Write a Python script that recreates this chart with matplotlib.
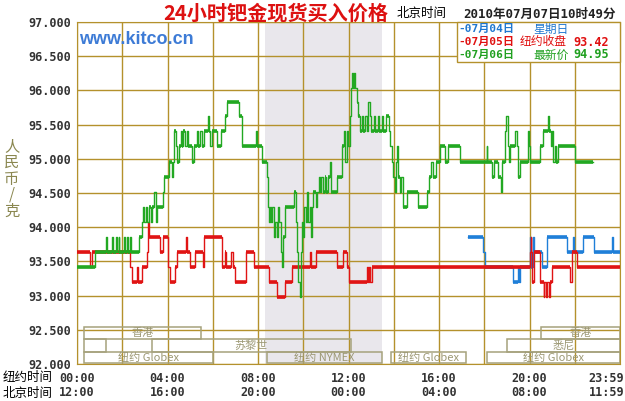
import matplotlib
matplotlib.use('Agg')
import matplotlib.pyplot as plt
import matplotlib.transforms as mtransforms
from matplotlib.patches import Rectangle

W, H = 625, 401
CJK = ['Noto Sans CJK SC', 'DejaVu Sans']
MONO_CJK = ['DejaVu Sans Mono', 'Noto Sans CJK SC']

# ---- data (hour of New York day, price RMB/g), step from each point ----
red_pts = [
    (0.00, 93.64), (0.58, 93.42), (0.65, 93.64),
    (2.36, 93.42), (2.42, 93.20), (2.64, 93.42), (2.70, 93.20), (2.86, 93.42),
    (3.08, 93.64), (3.14, 94.08), (3.20, 93.86), (3.67, 93.64), (3.80, 93.86),
    (4.04, 93.42), (4.11, 93.20), (4.31, 93.42), (4.40, 93.64), (4.80, 93.86),
    (4.85, 93.64), (5.00, 93.42), (5.22, 93.64), (5.55, 93.42), (5.61, 93.86),
    (6.40, 93.42), (6.52, 93.64), (6.60, 93.42), (6.82, 93.64), (6.88, 93.42),
    (7.00, 93.20), (7.45, 93.64), (7.81, 93.42), (8.47, 93.20), (8.82, 92.98),
    (9.21, 93.20), (9.50, 93.42), (10.30, 93.64), (10.36, 93.42), (10.56, 93.64),
    (11.50, 93.42), (11.77, 93.64), (11.94, 93.42), (12.02, 93.20), (12.80, 93.42),
    (12.86, 93.20), (12.92, 93.42), (12.97, 93.20), (13.03, 93.42),
    (20.02, 93.64), (20.05, 93.86), (20.08, 93.64), (20.10, 93.20), (20.20, 93.64),
    (20.46, 93.20), (20.62, 92.98), (20.66, 93.20), (20.74, 92.98), (20.78, 93.20),
    (20.85, 92.98), (20.89, 93.20), (20.98, 93.42), (21.79, 93.20), (21.86, 93.64),
    (22.08, 93.42), (24.00, 93.42),
]

green_pts = [
    (0.00, 93.42), (0.81, 93.64),
    (1.30, 93.86), (1.33, 93.64), (1.55, 93.86), (1.58, 93.64),
    (1.74, 93.86), (1.77, 93.64), (1.84, 93.86), (1.87, 93.64),
    (2.09, 93.86), (2.12, 93.64), (2.21, 93.86), (2.25, 93.64),
    (2.33, 93.86), (2.37, 93.64), (2.73, 93.86), (2.87, 94.08),
    (2.92, 94.30), (2.98, 94.08), (3.05, 94.30), (3.10, 94.08),
    (3.17, 94.30), (3.25, 94.08), (3.32, 94.30), (3.42, 94.52),
    (3.47, 94.08), (3.55, 94.30), (3.78, 94.52), (3.83, 94.74),
    (4.05, 94.96), (4.18, 94.74), (4.25, 94.96), (4.30, 95.40),
    (4.38, 95.18), (4.42, 94.96), (4.50, 95.18), (4.58, 95.40),
    (4.62, 95.18), (4.70, 95.40), (4.78, 95.18), (4.85, 95.40),
    (4.92, 95.18), (5.08, 94.96), (5.16, 95.18), (5.30, 95.40),
    (5.36, 95.18), (5.44, 95.40), (5.52, 95.18), (5.60, 95.40),
    (5.79, 95.62), (5.82, 95.40), (5.90, 95.18), (5.97, 95.40),
    (6.19, 95.18), (6.38, 95.40), (6.52, 95.62), (6.63, 95.83),
    (7.15, 95.62), (7.30, 95.18), (7.89, 95.40), (7.96, 95.18),
    (8.18, 94.96), (8.40, 94.74), (8.44, 94.30), (8.48, 94.08),
    (8.53, 94.30), (8.58, 94.08), (8.64, 94.30), (8.70, 93.86),
    (8.76, 94.08), (8.82, 93.86), (8.88, 94.30), (8.94, 94.08),
    (9.00, 93.64), (9.06, 93.42), (9.12, 93.86), (9.20, 94.30),
    (9.58, 94.52), (9.66, 94.08), (9.72, 93.64), (9.78, 93.20),
    (9.84, 92.98), (9.90, 93.64), (9.95, 94.08), (10.00, 93.86),
    (10.05, 94.30), (10.10, 94.08), (10.16, 94.52), (10.22, 94.08),
    (10.28, 94.30), (10.35, 93.86), (10.40, 94.30), (10.45, 94.52),
    (10.55, 94.30), (10.62, 94.52), (10.68, 94.74), (10.74, 94.52),
    (10.80, 94.74), (10.86, 94.52), (10.94, 94.74), (11.02, 94.52),
    (11.10, 94.74), (11.19, 94.96), (11.24, 94.52), (11.48, 94.74),
    (11.70, 95.18), (11.78, 95.40), (11.85, 94.96), (11.92, 95.40),
    (11.99, 95.18), (12.05, 95.62), (12.12, 96.04), (12.16, 96.26),
    (12.20, 96.04), (12.24, 96.26), (12.30, 96.04), (12.36, 95.83),
    (12.44, 95.62), (12.52, 95.40), (12.60, 95.62), (12.66, 95.40),
    (12.75, 95.62), (12.82, 95.40), (12.88, 95.83), (12.93, 95.62),
    (12.98, 95.40), (13.14, 95.62), (13.17, 95.40), (13.32, 95.62),
    (13.35, 95.40), (13.49, 95.62), (13.52, 95.40), (13.66, 95.62),
    (13.80, 95.40), (13.85, 95.18), (13.92, 94.96), (13.98, 94.74),
    (14.04, 94.52), (14.08, 94.96), (14.14, 95.18), (14.18, 94.74),
    (14.26, 94.52), (14.34, 94.74), (14.40, 94.52), (14.43, 94.30),
    (14.57, 94.52), (15.09, 94.30), (15.46, 94.52), (15.56, 94.74),
    (15.66, 94.96), (15.72, 94.74), (15.86, 94.96), (16.05, 95.18),
    (16.27, 94.96), (16.40, 95.18), (16.93, 94.96), (18.10, 95.18),
    (18.14, 94.96), (18.34, 94.74), (18.42, 94.96), (18.62, 94.74),
    (18.74, 94.52), (18.80, 94.96), (18.92, 95.40), (18.98, 95.62),
    (19.04, 95.18), (19.10, 94.96), (19.14, 95.18), (19.38, 95.40),
    (19.43, 95.18), (19.48, 94.74), (19.60, 94.96), (19.93, 95.40),
    (19.98, 95.18), (20.04, 94.96), (20.45, 95.18), (20.58, 95.40),
    (20.80, 95.62), (20.86, 95.40), (20.95, 95.18), (21.00, 95.40),
    (21.05, 94.96), (21.12, 95.18), (21.18, 94.96), (21.27, 95.18),
    (22.00, 94.96), (22.82, 94.96),
]

blue_pts = [
    (17.30, 93.86), (17.96, 93.64), (18.04, 93.42), (19.29, 93.20),
    (19.50, 93.42), (19.54, 93.20), (19.58, 93.42), (20.02, 93.86),
    (20.08, 93.42), (20.16, 93.86), (20.22, 93.64), (20.54, 93.42),
    (20.76, 93.86), (21.64, 93.64), (21.93, 93.86), (21.97, 93.64),
    (22.36, 93.86), (22.86, 93.64), (23.66, 93.86), (23.70, 93.64),
    (24.00, 93.64),
]

y_ticks = [92.0, 92.5, 93.0, 93.5, 94.0, 94.5, 95.0, 95.5, 96.0, 96.5, 97.0]
tick_hours = [0, 4, 8, 12, 16, 20, 24]
ny_labels = ['00:00', '04:00', '08:00', '12:00', '16:00', '20:00', '23:59']
bj_labels = ['12:00', '16:00', '20:00', '00:00', '04:00', '08:00', '11:59']

nymex_open, nymex_close = 8.33, 13.5

# trading sessions drawn at the bottom: row, start, end, name
session_row = [0, 0, 1, 1, 1, 2, 2, 2, 2]
session_start = [0.3, 20.5, 0.3, 3.3, 19.0, 0.3, 8.4, 13.9, 18.1]
session_end = [5.5, 24.0, 1.26, 12.1, 24.0, 6.0, 13.5, 17.2, 24.0]
session_name = ['香港', '香港', '', '苏黎世', '悉尼', '纽约 Globex', '纽约 NYMEX',
                '纽约 Globex', '纽约 Globex']
row_top = [92.54, 92.36, 92.17]
row_bottom = [92.36, 92.17, 92.01]

legend_dates = ['-07月04日', '-07月05日', '-07月06日']
legend_names = ['星期日', '纽约收盘', '最新价']
legend_values = ['', '93.42', '94.95']

GRID = '#b4912c'
BOX = '#a6a27c'
C_RED = '#e01414'
C_GREEN = '#22a822'
C_BLUE = '#1f7fd8'


def px(x, y):
    return x / W, 1 - y / H


def draw_series(ax, pts, color, z):
    t = [p[0] for p in pts]
    v = [p[1] for p in pts]
    ax.step(t, v, where='post', color=color, lw=1.0, zorder=z)
    # flat stretches are drawn thicker, like the original chart
    for i in range(len(pts) - 1):
        if t[i + 1] - t[i] >= 0.08:
            ax.hlines(v[i], t[i], t[i + 1], color=color, lw=2.6, zorder=z)


fig = plt.figure(figsize=(W / 100, H / 100), dpi=100)
fig.patch.set_facecolor('white')
x0, y0 = px(77, 364)
x1, y1 = px(620, 22)
ax = fig.add_axes([x0, y0, x1 - x0, y1 - y0])
ax.set_xlim(0, 24)
ax.set_ylim(92, 97)

ax.axvspan(nymex_open, nymex_close, color='#e9e7ec', lw=0, zorder=0)
for yv in y_ticks:
    ax.axhline(yv, color=GRID, lw=1, zorder=1)
for h in range(0, 25, 2):
    ax.axvline(h, color=GRID, lw=1, zorder=1)

# session boxes
for r, s, e, name in zip(session_row, session_start, session_end, session_name):
    ax.add_patch(Rectangle((s, row_bottom[r]), e - s, row_top[r] - row_bottom[r],
                           fill=False, edgecolor=BOX, lw=1.1, zorder=2))
    if name:
        ax.text((s + e) / 2, (row_top[r] + row_bottom[r]) / 2, name, ha='center',
                va='center', fontsize=8, color='#9c9874', family=CJK, zorder=2)

draw_series(ax, blue_pts, C_BLUE, 3)
draw_series(ax, red_pts, C_RED, 4)
draw_series(ax, green_pts, C_GREEN, 5)

for sp in ax.spines.values():
    sp.set_color(GRID)
ax.set_yticks(y_ticks)
ax.set_yticklabels([f'{v:.3f}' for v in y_ticks], family='DejaVu Sans Mono',
                   weight='bold', fontsize=8.5, color='#333333')
ax.set_xticks([])
ax.tick_params(length=0, pad=4)

# two rows of time labels under the chart
trans = mtransforms.blended_transform_factory(ax.transData, fig.transFigure)
for i, (h, a, b) in enumerate(zip(tick_hours, ny_labels, bj_labels)):
    last = i == len(tick_hours) - 1
    for txt, yy in ((a, 378), (b, 393)):
        if last:
            # keep the last label inside the picture
            fig.text(*px(624, yy), txt, ha='right', va='center',
                     family='DejaVu Sans Mono', weight='bold', fontsize=8.5,
                     color='#333333')
        else:
            ax.text(h, px(0, yy)[1], txt, transform=trans, ha='center', va='center',
                    family='DejaVu Sans Mono', weight='bold', fontsize=8.5,
                    color='#333333', clip_on=False)
fig.text(*px(3, 378), '纽约时间', ha='left', va='center', fontsize=9, family=CJK)
fig.text(*px(3, 393), '北京时间', ha='left', va='center', fontsize=9, family=CJK)

# y label, stacked characters
fig.text(*px(12, 179), '人\n民\n币\n/\n克', ha='center', va='center', fontsize=11,
         color='#8a8750', linespacing=0.95, family=CJK)

# header
fig.text(*px(276, 13), '24小时钯金现货买入价格', ha='center', va='center', fontsize=14.5,
         weight='bold', color='#dd1111', family=CJK)
fig.text(*px(397, 14), '北京时间', ha='left', va='center', fontsize=9, family=CJK)
fig.text(*px(463, 14), '2010年07月07日10时49分', ha='left', va='center', fontsize=9,
         weight='bold', family=MONO_CJK, color='#222222')

fig.text(*px(79, 40), 'www.kitco.cn', ha='left', va='center', fontsize=13,
         weight='bold', family='Liberation Sans', color='#3d7bd6', zorder=5)

# legend box
lx, ly = px(457, 62)
fig.add_artist(Rectangle((lx, ly), (620 - 457) / W, 40 / H, transform=fig.transFigure,
                         facecolor='white', edgecolor=GRID, lw=1, zorder=4))
legend_colors = ['#1f77d0', '#e01010', '#20a020']
for i, (d, n, v, c) in enumerate(zip(legend_dates, legend_names, legend_values,
                                      legend_colors)):
    yy = 29 + 13 * i
    fig.text(*px(458, yy), d, ha='left', va='center', fontsize=8, weight='bold',
             family=MONO_CJK, color=c, zorder=5)
    nx = 520 if len(n) == 4 else 533
    fig.text(*px(nx, yy), n, ha='left', va='center', fontsize=8.5, family=CJK,
             color=c, zorder=5)
    if v:
        fig.text(*px(573, yy), v, ha='left', va='center', fontsize=8.5, weight='bold',
                 family='DejaVu Sans Mono', color=c, zorder=5)

fig.savefig('out.png', dpi=100, facecolor='white')
